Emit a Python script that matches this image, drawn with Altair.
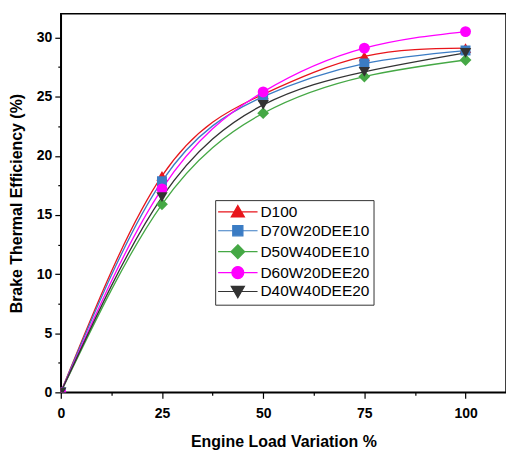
import altair as alt
import pandas as pd

# ---------------- data ----------------
loads = [0, 25, 50, 75, 100]
series = ["D100", "D70W20DEE10", "D50W40DEE10", "D60W20DEE20", "D40W40DEE20"]
d100 = [0, 18.3, 25.2, 28.4, 29.1]
d70w20dee10 = [0, 17.85, 25.0, 27.8, 28.9]
d50w40dee10 = [0, 15.9, 23.6, 26.7, 28.1]
d60w20dee20 = [0, 17.2, 25.4, 29.1, 30.5]
d40w40dee20 = [0, 16.5, 24.3, 27.1, 28.7]
values = [d100, d70w20dee10, d50w40dee10, d60w20dee20, d40w40dee20]

x_ticks = [0, 12.5, 25, 37.5, 50, 62.5, 75, 87.5, 100]
y_ticks = [0, 2.5, 5, 7.5, 10, 12.5, 15, 17.5, 20, 22.5, 25, 27.5, 30]

# ---------------- styles ----------------
colors = ["#e8151b", "#3b7cc4", "#45a845", "#ff00ff", "#333333"]
shapes = ["triangle-up", "square", "diamond", "circle", "triangle-down"]
sizes = [130, 100, 140, 120, 130]
LINE = "M-3.3,0H3.3"
legend_paths = [
    LINE + "M0,-1.05L1.1,0.85L-1.1,0.85Z",
    LINE + "M-0.85,-0.85H0.85V0.85H-0.85Z",
    LINE + "M0,-1.15L1.15,0L0,1.15L-1.15,0Z",
    LINE + "M-1,0A1,1,0,1,0,1,0A1,1,0,1,0,-1,0Z",
    LINE + "M0,1.05L1.1,-0.85L-1.1,-0.85Z",
]
FONT = "Liberation Sans"

rows = []
for s, vals in zip(series, values):
    for l, v in zip(loads, vals):
        rows.append({"Load": l, "BTE": v, "Series": s})
df = pd.DataFrame(rows)

x_enc = alt.X(
    "Load:Q",
    scale=alt.Scale(domain=[0, 110], nice=False, zero=False),
    axis=alt.Axis(
        title="Engine Load Variation %",
        values=x_ticks,
        labelExpr="datum.value % 25 === 0 ? datum.label : ''",
        tickSize={"condition": {"test": "datum.value % 25 === 0", "value": 6}, "value": 3},
        labelFlush=False,
        labelOverlap=False,
        labelPadding=8,
        titlePadding=13,
        grid=False,
    ),
)
y_enc = alt.Y(
    "BTE:Q",
    scale=alt.Scale(domain=[0, 32], nice=False, zero=False),
    axis=alt.Axis(
        title="Brake Thermal Efficiency (%)",
        values=y_ticks,
        labelExpr="datum.value % 5 === 0 ? datum.label : ''",
        tickSize={"condition": {"test": "datum.value % 5 === 0", "value": 6}, "value": 3},
        labelFlush=False,
        labelOverlap=False,
        labelPadding=3,
        titlePadding=12,
        grid=False,
    ),
)

base = alt.Chart(df)

line_layers = []
point_layers = []
for s, c, sh, sz in zip(series, colors, shapes, sizes):
    sub = base.transform_filter(alt.datum.Series == s)
    line_layers.append(
        sub.mark_line(interpolate="natural", strokeWidth=1.3, stroke=c).encode(x=x_enc, y=y_enc)
    )
    point_layers.append(
        sub.mark_point(shape=sh, filled=True, size=sz, opacity=1, fill=c, strokeWidth=0, clip=True)
        .encode(x=x_enc, y=y_enc)
    )

# hidden layer (clipped away) that only feeds the legend: marker + line symbols
legend_layer = (
    base.transform_calculate(BTE="datum.BTE - 100")
    .mark_point(filled=True, clip=True, opacity=1, size=144, strokeWidth=1.3)
    .encode(
        x=x_enc,
        y=y_enc,
        fill=alt.Fill("Series:N", scale=alt.Scale(domain=series, range=colors), legend=alt.Legend(title=None)),
        stroke=alt.Stroke("Series:N", scale=alt.Scale(domain=series, range=colors), legend=alt.Legend(title=None)),
        shape=alt.Shape("Series:N", scale=alt.Scale(domain=series, range=legend_paths), legend=alt.Legend(title=None)),
    )
)

chart = (
    alt.layer(*line_layers, *point_layers, legend_layer)
    .properties(width=447, height=380, padding={"left": 0, "top": 5, "right": 0, "bottom": 0})
    .configure_view(stroke="black", strokeWidth=1.5)
    .configure_axis(
        domainColor="black",
        domainWidth=1.5,
        tickColor="black",
        tickWidth=1.2,
        labelFont=FONT,
        labelFontSize=14,
        labelFontWeight="bold",
        labelColor="black",
        titleFont=FONT,
        titleFontSize=16,
        titleFontWeight="bold",
        titleColor="black",
    )
    .configure_legend(
        orient="none",
        legendX=155,
        legendY=187,
        padding=4,
        strokeColor="#333333",
        fillColor="white",
        labelFont=FONT,
        labelFontSize=15.5,
        labelColor="black",
        symbolSize=144,
        symbolStrokeWidth=1.2,
        symbolOffset=11,
        labelOffset=15,
        rowPadding=2,
    )
)

chart.save("out.html", embed_options={"renderer": "svg", "actions": False})
